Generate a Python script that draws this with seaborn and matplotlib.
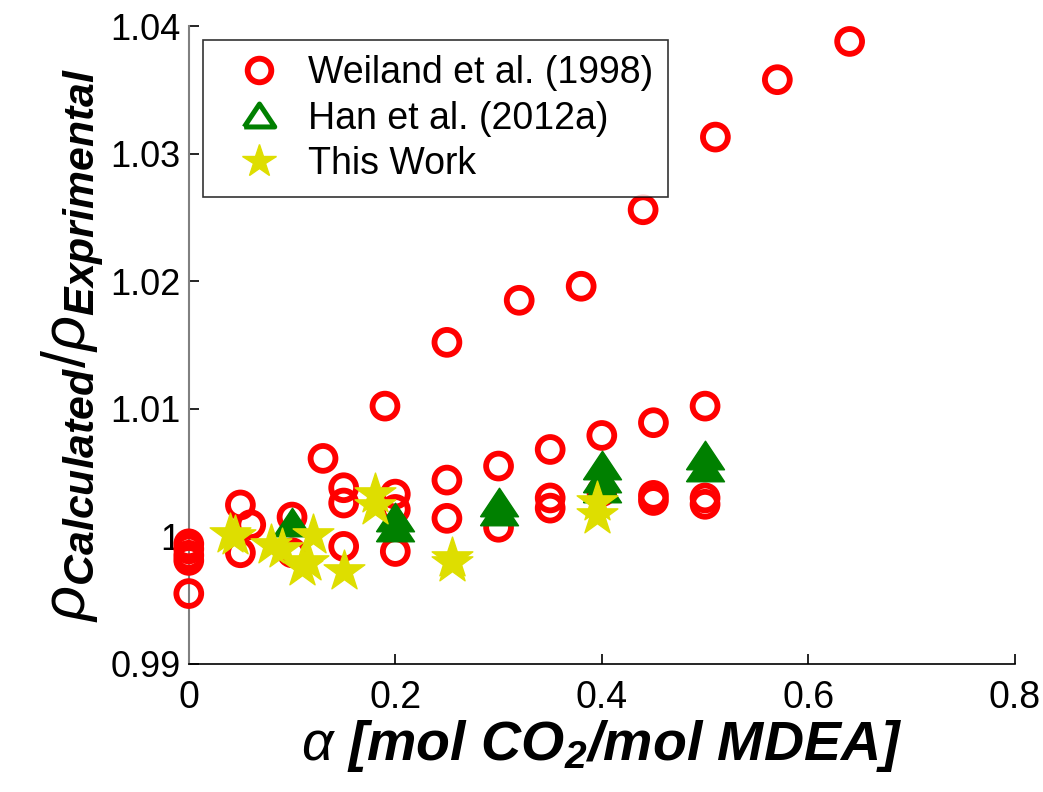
import numpy as np
import pandas as pd
import matplotlib
matplotlib.use("Agg")
import matplotlib.pyplot as plt
from matplotlib.lines import Line2D
import seaborn as sns

# === DATA ===
weiland_alpha = [0, 0, 0, 0, 0,
                 0.05, 0.05, 0.06,
                 0.10, 0.10, 0.13,
                 0.15, 0.15, 0.15,
                 0.20, 0.20, 0.20,
                 0.25, 0.25, 0.30, 0.30,
                 0.35, 0.35, 0.35,
                 0.40, 0.40,
                 0.45, 0.45, 0.45,
                 0.50, 0.50, 0.50,
                 0.19, 0.25, 0.32, 0.38, 0.44, 0.51, 0.57, 0.64]
weiland_ratio = [0.9994, 0.9990, 0.9985, 0.9981, 0.9955,
                 1.00245, 0.9987, 1.0009,
                 1.0015, 0.9987, 1.0061,
                 1.0038, 1.0026, 0.9992,
                 1.0033, 1.0021, 0.9988,
                 1.0044, 1.0014, 1.0055, 1.0007,
                 1.0068, 1.0030, 1.0022,
                 1.0079, 1.0035,
                 1.0089, 1.0032, 1.0028,
                 1.0102, 1.0030, 1.0025,
                 1.0102, 1.0152, 1.0185, 1.0196, 1.0256, 1.0313, 1.0358, 1.0388]

han_alpha = [0.10, 0.20, 0.20, 0.30, 0.30, 0.40, 0.40, 0.40, 0.50, 0.50]
han_ratio = [1.0011, 1.0015, 1.0007, 1.0027, 1.0020, 1.0056, 1.0046, 1.0038, 1.0064, 1.0054]

this_alpha = [0.04, 0.045, 0.08, 0.09, 0.11, 0.115, 0.12, 0.15, 0.18, 0.18, 0.255, 0.255, 0.395, 0.395]
this_ratio = [1.0002, 1.0000, 0.9993, 0.9990, 0.9976, 0.9980, 1.0001, 0.9973, 1.0033, 1.0024,
              0.9983, 0.9979, 1.0027, 1.0017]

labels = ["Weiland et al. (1998)", "Han et al. (2012a)", "This Work"]
x_ticks = [0, 0.2, 0.4, 0.6, 0.8]
x_ticklabels = ["0", "0.2", "0.4", "0.6", "0.8"]
y_ticks = [0.99, 1.0, 1.01, 1.02, 1.03, 1.04]
y_ticklabels = ["0.99", "1", "1.01", "1.02", "1.03", "1.04"]

df_w = pd.DataFrame({"alpha": weiland_alpha, "ratio": weiland_ratio})
df_h = pd.DataFrame({"alpha": han_alpha, "ratio": han_ratio})
df_t = pd.DataFrame({"alpha": this_alpha, "ratio": this_ratio})

# === STYLE ===
sns.set_style("white")
plt.rcParams["font.family"] = ["Liberation Sans", "DejaVu Sans"]
plt.rcParams["mathtext.fontset"] = "custom"
plt.rcParams["mathtext.rm"] = "Liberation Sans"
plt.rcParams["mathtext.it"] = "Liberation Sans:italic"
plt.rcParams["mathtext.bf"] = "Liberation Sans:bold:italic"
for key in ["text.color", "axes.labelcolor", "xtick.color", "ytick.color"]:
    plt.rcParams[key] = "black"

red = "#ff0000"
green = "#008000"
yellow = "#dede00"
# wide MATLAB-like triangle
tri = [(-1, -0.75), (1, -0.75), (0, 0.75), (-1, -0.75)]

fig = plt.figure(figsize=(10.43, 7.92), dpi=100)
ax = fig.add_axes([0.181, 0.162, 0.792, 0.805])

sns.scatterplot(data=df_w, x="alpha", y="ratio", ax=ax, marker="o", s=320,
                fc="none", ec=red, linewidth=4.2, clip_on=False, zorder=3)
sns.scatterplot(data=df_h, x="alpha", y="ratio", ax=ax, marker=tri, s=750,
                fc=green, ec=green, linewidth=1.0, clip_on=False, zorder=4)
sns.scatterplot(data=df_t, x="alpha", y="ratio", ax=ax, marker="*", s=950,
                fc=yellow, ec=yellow, linewidth=1.0, clip_on=False, zorder=5)

ax.set_xlim(0, 0.8)
ax.set_ylim(0.99, 1.04)
ax.set_xticks(x_ticks)
ax.set_xticklabels(x_ticklabels, fontsize=27)
ax.set_yticks(y_ticks)
ax.set_yticklabels(y_ticklabels, fontsize=26)
ax.tick_params(axis="both", direction="in", length=7, width=1.2, color="black",
               bottom=True, left=True)
ax.tick_params(axis="x", pad=12)
ax.tick_params(axis="y", pad=6)

for side in ["top", "right"]:
    ax.spines[side].set_visible(False)
ax.spines["left"].set_color("#808080")
ax.spines["left"].set_linewidth(1.5)
ax.spines["bottom"].set_color("black")
ax.spines["bottom"].set_linewidth(1.2)

ax.set_xlabel(r"$\alpha$ [mol CO$_\mathbf{2}$/mol MDEA]", fontsize=40,
              fontweight="bold", fontstyle="italic")
ax.xaxis.set_label_coords(0.5, -0.085)
ax.set_ylabel(r"$\rho_{\mathbf{Calculated}}/\rho_{\mathbf{Exprimental}}$", fontsize=44)
ax.yaxis.set_label_coords(-0.1, 0.5)

handles = [
    Line2D([], [], linestyle="none", marker="o", markersize=17, markerfacecolor="none",
           markeredgecolor=red, markeredgewidth=4.2),
    Line2D([], [], linestyle="none", marker=tri, markersize=22, markerfacecolor="none",
           markeredgecolor=green, markeredgewidth=3.6),
    Line2D([], [], linestyle="none", marker="*", markersize=25, markerfacecolor=yellow,
           markeredgecolor=yellow),
]
leg = ax.legend(handles, labels, loc="upper left", bbox_to_anchor=(0.017, 0.978),
                borderaxespad=0, fontsize=27, frameon=True, fancybox=False,
                edgecolor="black", handlelength=2.2, handletextpad=0.2,
                labelspacing=0.25, borderpad=0.4)
leg.get_frame().set_linewidth(1.2)

fig.savefig("out.png", dpi=100)
